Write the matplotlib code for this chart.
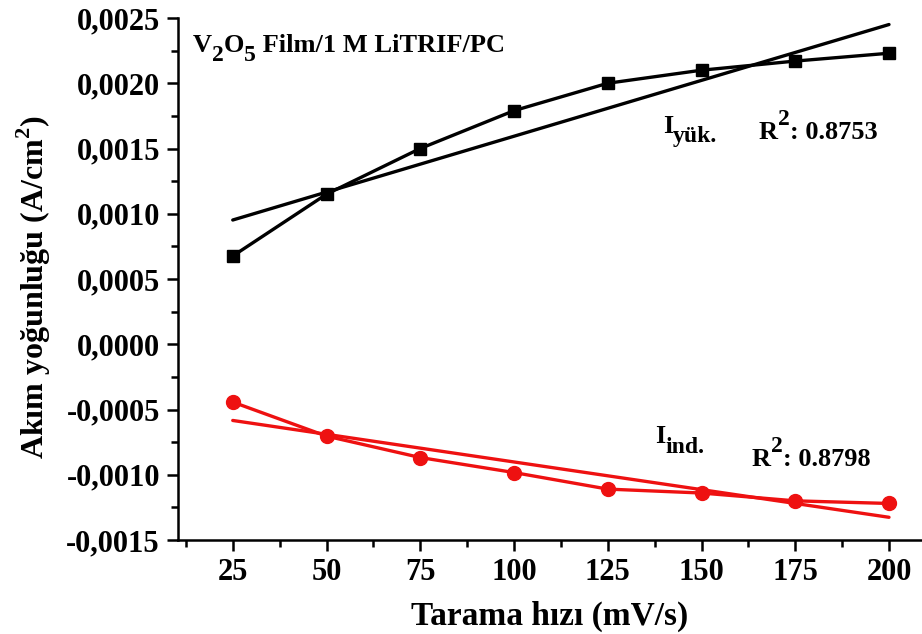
import matplotlib
matplotlib.use("Agg")
import matplotlib.pyplot as plt
from matplotlib.ticker import MultipleLocator, FuncFormatter

plt.rcParams['font.family'] = ['Liberation Serif', 'DejaVu Serif']
plt.rcParams['font.weight'] = 'bold'
plt.rcParams['mathtext.fontset'] = 'custom'
plt.rcParams['mathtext.bf'] = 'Liberation Serif:bold'

# Scan rate (mV/s)
scan_rate = [25, 50, 75, 100, 125, 150, 175, 200]
# Current densities (A/cm^2)
i_charge = [0.000676, 0.00115, 0.00150, 0.00179, 0.00200, 0.00210, 0.00217, 0.00223]
i_discharge = [-0.000443, -0.000704, -0.000868, -0.000983, -0.00111, -0.00114, -0.00120, -0.00122]
# Linear trend lines (end points)
fit_x = [25, 200]
fit_charge = [0.000952, 0.00245]
fit_discharge = [-0.000584, -0.001326]

x_ticks = [25, 50, 75, 100, 125, 150, 175, 200]

W, H = 922, 634
fig = plt.figure(figsize=(W / 100, H / 100), dpi=100)
ax = fig.add_axes([178 / W, 1 - 540 / H, 1 - 178 / W, (540 - 18) / H])

ax.plot(fit_x, fit_charge, color='black', lw=2.4, solid_capstyle='round')
ax.plot(scan_rate, i_charge, color='black', lw=2.4, marker='s', markersize=9)
ax.plot(fit_x, fit_discharge, color='#ee1111', lw=2.4, solid_capstyle='round')
ax.plot(scan_rate, i_discharge, color='#ee1111', lw=2.4, marker='o', markersize=10)

ax.set_xlim(10.4, 208.8)
ax.set_ylim(-0.0015, 0.0025)
ax.set_xticks(x_ticks)
ax.xaxis.set_minor_locator(MultipleLocator(12.5))
ax.yaxis.set_major_locator(MultipleLocator(0.0005))
ax.yaxis.set_minor_locator(MultipleLocator(0.00025))
ax.yaxis.set_major_formatter(FuncFormatter(lambda v, p: f"{v:.4f}".replace('.', ',').replace('-0,0000', '0,0000')))

for s in ['top', 'right']:
    ax.spines[s].set_visible(False)
for s in ['left', 'bottom']:
    ax.spines[s].set_linewidth(1.8)

ax.tick_params(which='major', direction='out', length=8, width=1.8, labelsize=22, pad=5)
ax.tick_params(which='minor', direction='out', length=5, width=1.8)
for lbl in ax.get_xticklabels() + ax.get_yticklabels():
    lbl.set_fontweight('bold')

ax.set_xlabel('Tarama hızı (mV/s)', fontsize=24, fontweight='bold', labelpad=10)
ax.set_ylabel(r'Akım yoğunluğu (A/cm$^\mathbf{2}$)', fontsize=23, fontweight='bold')
ax.yaxis.set_label_coords(-0.168, 0.485)

renderer = fig.canvas.get_renderer()


def text_runs(x, y, parts):
    """Draw text pieces one after another from pixel position (x, y = baseline from top)."""
    for s, size, dy in parts:
        t = fig.text(x / W, 1 - (y + dy) / H, s, fontsize=size, fontweight='bold',
                     va='baseline', ha='left')
        x += t.get_window_extent(renderer).width


text_runs(193, 52, [('V', 19, 0), ('2', 17, 9), ('O', 19, 0), ('5', 17, 9),
                    (' Film/1 M LiTRIF/PC', 19, 0)])
text_runs(663, 133, [('I', 19, 0), ('yük.', 17, 9)])
text_runs(759, 139, [('R', 19, 0), ('2', 17, -14), (': 0.8753', 19, 0)])
text_runs(655, 443, [('I', 19, 0), ('ind.', 17, 10)])
text_runs(752, 466, [('R', 19, 0), ('2', 17, -14), (': 0.8798', 19, 0)])

fig.savefig('out.png', dpi=100)
